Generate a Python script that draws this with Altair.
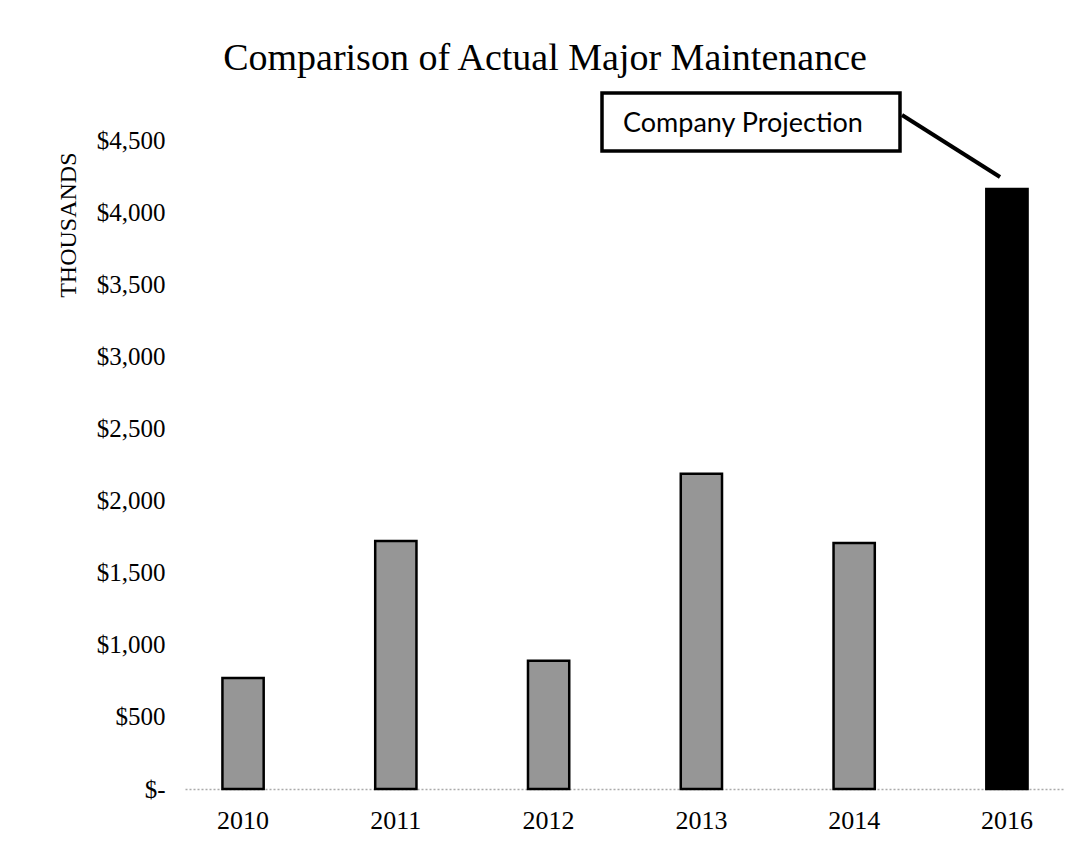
import altair as alt
import pandas as pd

years = ["2010", "2011", "2012", "2013", "2014", "2016"]
values = [770, 1720, 890, 2185, 1705, 4160]
kinds = ["Actual", "Actual", "Actual", "Actual", "Actual", "Projection"]
y_ticks = [0, 500, 1000, 1500, 2000, 2500, 3000, 3500, 4000, 4500]
annotation = ["Company Projection"]
title_text = "Comparison of Actual Major Maintenance"

df = pd.DataFrame({"year": years, "value": values, "kind": kinds})
ann_df = pd.DataFrame({"label": annotation})

SERIF = "Liberation Serif"

bars = alt.Chart(df).mark_bar(stroke="black", strokeWidth=2.5).encode(
    x=alt.X(
        "year:N",
        sort=years,
        scale=alt.Scale(paddingInner=0.73, paddingOuter=0.245),
        axis=alt.Axis(
            title=None,
            labelAngle=0,
            labelFont=SERIF,
            labelFontSize=26,
            labelColor="black",
            ticks=False,
            domainColor="#aaaaaa",
            domainDash=[2, 2],
            domainWidth=1.5,
            labelPadding=18,
        ),
    ),
    y=alt.Y(
        "value:Q",
        scale=alt.Scale(domain=[0, 4500], nice=False),
        axis=alt.Axis(
            values=y_ticks,
            labelExpr="datum.value == 0 ? '$-\u2003' : '$' + format(datum.value, ',')",
            grid=False,
            domain=False,
            ticks=False,
            labelPadding=20,
            labelFont=SERIF,
            labelFontSize=25,
            labelColor="black",
            title="THOUSANDS",
            titleFont=SERIF,
            titleFontSize=24,
            titleFontWeight="normal",
            titleColor="black",
            titleAngle=-90,
            titleX=-117,
            titleY=12,
            titleAlign="right",
            titleBaseline="middle",
        ),
    ),
    color=alt.Color(
        "kind:N",
        scale=alt.Scale(domain=["Actual", "Projection"], range=["#969696", "#000000"]),
        legend=None,
    ),
)

box = alt.Chart(ann_df).mark_rect(fill="white", stroke="black", strokeWidth=3.5).encode(
    x=alt.value(417), x2=alt.value(715), y=alt.value(-47), y2=alt.value(11)
)

box_text = alt.Chart(ann_df).mark_text(
    align="left", baseline="alphabetic", font="Lato", fontSize=27, color="black"
).encode(x=alt.value(438), y=alt.value(-8), text="label:N")

leader = alt.Chart(ann_df).mark_rule(color="black", strokeWidth=4).encode(
    x=alt.value(717), y=alt.value(-25), x2=alt.value(815), y2=alt.value(37)
)

chart = (
    alt.layer(bars, leader, box, box_text)
    .properties(
        width=880,
        height=649,
        title=alt.TitleParams(
            title_text,
            font=SERIF,
            fontSize=38,
            fontWeight="normal",
            color="black",
            anchor="middle",
            frame="group",
            dx=-80,
            dy=-9,
        ),
        autosize=alt.AutoSizeParams(type="none"),
        padding={"left": 185, "top": 140, "right": 0, "bottom": 60},
        background="white",
    )
    .configure_view(stroke="transparent")
)

chart.save("out.html", embed_options={"renderer": "svg", "actions": False})
